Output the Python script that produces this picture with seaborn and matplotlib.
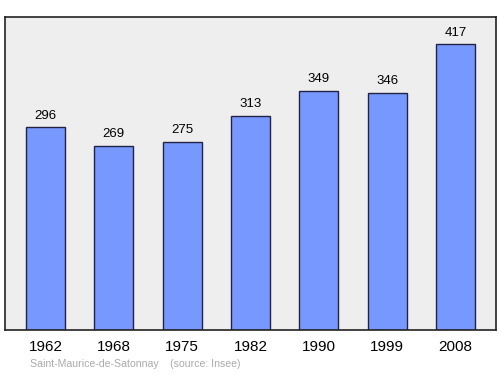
import matplotlib
matplotlib.use("Agg")
import matplotlib.pyplot as plt
import seaborn as sns
import pandas as pd

years = ["1962", "1968", "1975", "1982", "1990", "1999", "2008"]
population = [296, 269, 275, 313, 349, 346, 417]
footer = "Saint-Maurice-de-Satonnay    (source: Insee)"

sns.set_theme(style="white")
plt.rcParams['font.family'] = ['Liberation Sans', 'DejaVu Sans']

df = pd.DataFrame({"year": years, "pop": population})

fig = plt.figure(figsize=(5, 3.74), dpi=100)
ax = fig.add_axes([0.01, 0.1176, 0.982, 0.837])
ax.set_facecolor("#eeeeee")
sns.barplot(data=df, x="year", y="pop", ax=ax, color="#7799ff", saturation=1,
            width=0.57, edgecolor="#222244", linewidth=1)
for p in ax.patches:
    ax.annotate(f"{int(round(p.get_height()))}", (p.get_x() + p.get_width() / 2, p.get_height()),
                xytext=(0, 4), textcoords="offset points", ha="center", va="bottom",
                fontsize=9.5, color="black")
ax.set_xlim(-0.592, 6.592)
ax.set_ylim(0, 457)
ax.set_yticks([])
ax.set_xlabel("")
ax.set_ylabel("")
ax.tick_params(axis="x", length=0, labelsize=11, pad=7, colors="black")
for s in ax.spines.values():
    s.set_visible(True)
    s.set_color("#222222")
    s.set_linewidth(1.2)
fig.text(0.06, 0.026, footer, fontsize=7.6, color="#aaaaaa", ha="left", va="center")
fig.savefig("out.png", dpi=100, facecolor="white")
